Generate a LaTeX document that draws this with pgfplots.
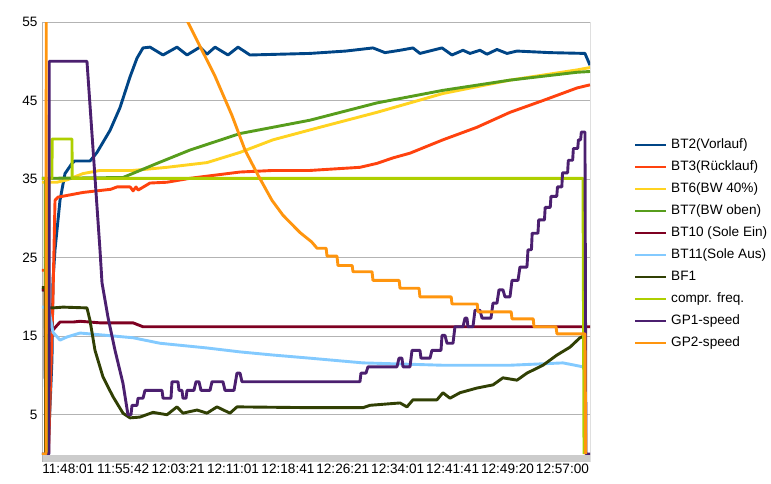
\documentclass[border=0pt]{standalone}
\usepackage{fontspec}
\setmainfont{Liberation Sans}
\usepackage{pgfplots}
\pgfplotsset{compat=1.18}

\definecolor{cBTtwo}{HTML}{004586}
\definecolor{cBTthree}{HTML}{FF420E}
\definecolor{cBTsix}{HTML}{FFD320}
\definecolor{cBTseven}{HTML}{579D1C}
\definecolor{cBTten}{HTML}{7E0021}
\definecolor{cBTeleven}{HTML}{83CAFF}
\definecolor{cBFone}{HTML}{314004}
\definecolor{cCompr}{HTML}{AECF00}
\definecolor{cGPone}{HTML}{4B1F6F}
\definecolor{cGPtwo}{HTML}{FF950E}
\definecolor{gridgray}{HTML}{B3B3B3}

\begin{document}
\begin{tikzpicture}
\useasboundingbox (0,0) rectangle (771pt,483pt);
% frame lines and the grey band under the plot
\fill[color=gray!40] (42pt,21pt) rectangle (590pt,28pt);
\draw[color=gridgray, line width=1pt] (42pt,21pt) -- (42pt,461pt);
\draw[color=gray!25, line width=1pt] (590pt,21pt) -- (590pt,461pt);
\begin{axis}[
    at={(42pt,29pt)}, anchor=south west,
    scale only axis, width=548pt, height=432pt,
    xmin=0, xmax=75.8, ymin=0, ymax=55,
    ytick={5,15,25,35,45,55},
    ymajorgrids, grid style={color=gridgray, line width=0.9pt},
    xtick={3.64,11.23,18.83,26.42,34.02,41.61,49.20,56.80,64.39,71.99},
    xticklabels={11:48:01,11:55:42,12:03:21,12:11:01,12:18:41,12:26:21,12:34:01,12:41:41,12:49:20,12:57:00},
    major tick length=0pt,
    axis line style={draw=none},
    tick label style={font=\fontsize{13.6}{15}\selectfont},
    /pgf/number format/assume math mode=true,
    yticklabel style={xshift=-1pt},
    xticklabel style={yshift=-6pt},
    every axis plot/.append style={line width=2.9pt, line join=round},
    legend style={at={(1,0.487)}, anchor=west, xshift=44pt, draw=none, fill=none,
        font=\fontsize{13.6}{15}\selectfont, row sep=7pt, inner sep=0pt,
        nodes={inner sep=1pt, text height=10pt, text depth=3pt},
        /tikz/every odd column/.append style={column sep=3pt}},
    legend cell align=left,
    legend image code/.code={\draw[#1, line width=2pt] (0pt,0pt) -- (31pt,0pt);},
]
% BT2 (Vorlauf)
\addplot[cBTtwo] coordinates {(0,20.9) (0.45,20.9) (0.5,0) (0.83,0) (1.38,12) (1.52,22.1) (1.80,26.0) (2.49,32.3) (3.18,35.7) (4.15,37.0) (4.5,37.3) (6.64,37.3) (7.61,38.4) (9.41,41.2) (10.79,44.1) (12.17,48.0) (13.14,50.4) (13.97,51.7) (14.94,51.8) (16.74,50.8) (18.67,51.8) (20.06,50.8) (21.85,51.8) (22.82,50.9) (23.93,51.8) (25.73,50.8) (27.11,51.8) (28.77,50.8) (37.07,51.0) (42,51.3) (45.78,51.7) (47.44,51.1) (49.52,51.4) (51.31,51.7) (52.28,51.0) (55.33,51.7) (56.71,50.8) (58.23,51.4) (59.20,51.0) (60.58,51.4) (61.55,50.9) (62.93,51.5) (64.32,51.0) (65.70,51.3) (70.26,51.1) (75.1,51.0) (75.8,49.5)};
% BT3 (Ruecklauf)
\addplot[cBTthree] coordinates {(0,23.4) (0.45,23.4) (0.5,0) (0.9,0) (1.52,20) (1.80,32.3) (2.21,32.7) (5.67,33.3) (9.5,33.7) (10.37,34.0) (12.2,34.0) (12.6,33.5) (13.0,34.0) (13.3,33.6) (14.94,34.5) (17.29,34.6) (20.47,35.1) (27.39,35.9) (31.95,36.1) (37.07,36.1) (43.98,36.5) (46.33,37.0) (48.55,37.7) (50.9,38.3) (55.46,40.0) (60.17,41.6) (64.73,43.5) (69.29,45.0) (74.0,46.6) (75.8,47.0)};
% BT6 (BW 40%)
\addplot[cBTsix] coordinates {(0,34.6) (0.45,34.6) (0.5,0) (0.8,0) (0.85,34.6) (2.07,34.6) (3.46,34.9) (5.67,35.7) (8.02,36.1) (12.59,36.1) (17.29,36.5) (22.82,37.1) (27.39,38.4) (31.95,40.0) (38.45,41.6) (46.33,43.5) (55.46,45.9) (64.73,47.6) (74.0,48.9) (75.8,49.2)};
% BT7 (BW oben)
\addplot[cBTseven] coordinates {(0,35.1) (0.45,35.1) (0.5,0) (0.8,0) (0.85,35.1) (11.2,35.2) (15.91,37.0) (20.47,38.7) (27.39,40.8) (31.95,41.6) (37.07,42.5) (46.33,44.7) (55.46,46.3) (64.73,47.6) (74.0,48.6) (75.8,48.7)};
% BT10 (Sole Ein)
\addplot[cBTten] coordinates {(0,20.9) (0.45,20.9) (0.5,0) (0.85,0) (0.9,15.8) (1.52,15.8) (2.49,16.8) (4.29,16.8) (5.26,16.9) (8,16.7) (12.59,16.7) (13.97,16.2) (75.8,16.2)};
% BT11 (Sole Aus)
\addplot[cBTeleven] coordinates {(0,18.7) (0.45,18.7) (0.5,0) (0.85,0) (0.9,18.7) (1.52,15.5) (2.49,14.5) (3.46,14.9) (5.26,15.4) (8.99,15.1) (12.59,14.8) (16.32,14.1) (22.82,13.5) (27.39,13.0) (31.95,12.6) (37.07,12.2) (44.4,11.6) (55.46,11.3) (64.73,11.3) (72.06,11.6) (74.83,11.1)};
% BF1
\addplot[cBFone] coordinates {(0,21.2) (0.45,21.2) (0.5,0) (0.85,0) (0.9,18.6) (1.52,18.6) (2.90,18.7) (6.22,18.6) (6.64,17.0) (7.33,13.2) (8.44,9.8) (9.82,7.3) (11.2,5.2) (12.17,4.6) (13.55,4.7) (15.35,5.3) (17.29,5.0) (18.67,6.0) (19.5,5.2) (21.44,5.6) (22.82,5.2) (24.2,6.0) (26.0,5.2) (26.97,6.0) (37.07,5.9) (44.4,5.9) (45.37,6.2) (49.52,6.5) (50.48,6.0) (51.31,6.9) (54.63,6.9) (55.46,7.8) (56.43,7.1) (57.81,7.8) (60.17,8.4) (62.38,8.8) (63.76,9.7) (65.7,9.4) (67.08,10.3) (69.29,11.3) (71.23,12.6) (73.03,13.6) (74.41,14.8) (75.10,15.1)};
% compr. freq.
\addplot[cCompr] coordinates {(0,35.1) (0.6,35.1) (0.65,0) (0.9,0) (0.95,35.1) (1.38,35.1) (1.40,40.1) (4.15,40.1) (4.17,35.1) (74.83,35.1) (74.97,0)};
% GP1-speed
\addplot[cGPone] coordinates {(0,0) (0.97,0) (1.0,50.0) (6.22,50.0) (7.33,35.2) (8.02,26.0) (8.30,21.8) (9.13,17.4) (10.10,13.2) (11.20,9.0) (11.89,5.0) (12.31,5.0) (12.45,6.2) (13.14,6.2) (13.28,7.1) (13.97,7.1) (14.25,8.1) (16.60,8.1) (16.74,7.1) (17.84,7.1) (17.98,9.2) (18.81,9.2) (18.95,8.1) (19.36,8.1) (19.50,7.1) (19.92,7.1) (20.06,8.1) (21.02,8.1) (21.30,9.2) (21.72,9.2) (21.99,8.1) (23.24,8.1) (23.51,9.2) (25.03,9.2) (25.31,8.1) (26.56,8.1) (26.97,10.3) (27.39,10.3) (27.66,9.2) (43.98,9.2) (44.12,10.3) (44.81,10.3) (45.09,11.1) (49.10,11.1) (49.38,12.2) (49.79,12.2) (49.93,11.1) (50.90,11.1) (51.18,13.2) (52.28,13.2) (52.42,12.2) (53.67,12.2) (53.94,13.2) (55.19,13.2) (55.33,15.1) (55.74,15.1) (56.02,14.1) (56.85,14.1) (57.12,16.2) (58.23,16.2) (58.51,17.3) (58.78,17.3) (58.92,16.2) (59.61,16.2) (59.89,18.3) (60.58,18.3) (60.86,17.3) (62.10,17.3) (62.38,19.2) (62.93,19.2) (63.21,20.9) (63.76,20.9) (64.04,20.0) (64.73,20.0) (65.01,22.1) (65.84,22.1) (66.11,23.8) (67.08,23.8) (67.22,26.0) (67.7,26.0) (67.8,28.1) (68.6,28.1) (68.7,29.8) (69.5,29.8) (69.6,31.4) (70.3,31.4) (70.4,32.8) (71.2,32.8) (71.3,34.0) (71.9,34.0) (72.0,35.8) (72.7,35.8) (72.8,37.4) (73.4,37.4) (73.5,38.9) (74.1,38.9) (74.2,40.0) (74.5,40.0) (74.6,41.0) (75.10,41.0) (75.24,0) (75.8,0)};
% GP2-speed
\addplot[cGPtwo] coordinates {(0,0) (0.55,0) (0.6,75) (19.0,75) (19.8,56.5) (20.06,55.2) (23.93,48.1) (26.28,43.1) (28.08,38.7) (29.88,35.5) (31.81,32.3) (33.33,30.4) (35.68,28.2) (37.3,27.0) (38.04,26.2) (39.3,26.2) (39.42,25.2) (40.8,25.2) (40.94,24.0) (42.9,24.0) (43.02,23.2) (45.65,23.2) (45.78,22.1) (49.4,22.1) (49.52,21.1) (52.15,21.1) (52.28,20.0) (56.6,20.0) (56.71,19.1) (60.2,19.1) (60.30,18.1) (64.9,18.1) (65.01,17.2) (67.95,17.2) (68.05,16.2) (71.1,16.2) (71.23,15.3) (75.10,15.3) (75.2,0)};
\legend{BT2(Vorlauf), BT3(Rücklauf), BT6(BW 40\%), BT7(BW oben), BT10 (Sole Ein), BT11(Sole Aus), BF1, compr. freq., GP1-speed, GP2-speed}
\end{axis}
\end{tikzpicture}
\end{document}
